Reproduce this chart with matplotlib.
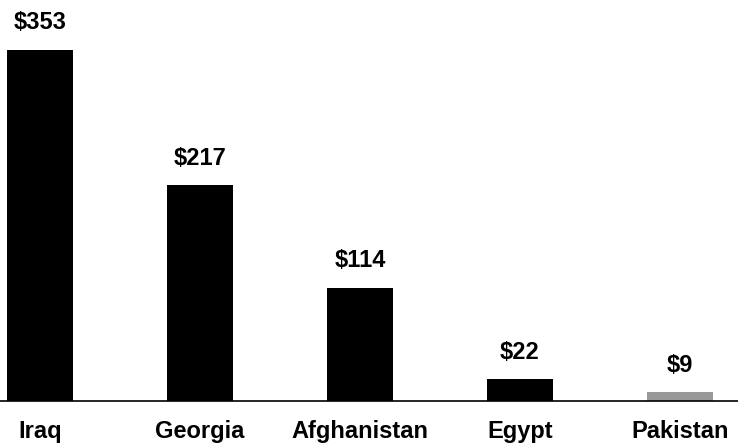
import matplotlib
matplotlib.use('Agg')
import matplotlib.pyplot as plt

plt.rcParams['font.family'] = ['Liberation Sans', 'DejaVu Sans']

countries = ['Iraq', 'Georgia', 'Afghanistan', 'Egypt', 'Pakistan']
values = [353, 217, 114, 22, 9]
labels = ['$353', '$217', '$114', '$22', '$9']
colors = ['#000000', '#000000', '#000000', '#000000', '#999999']

fig = plt.figure(figsize=(7.38, 4.43), dpi=100)
ax = fig.add_axes([0, 42 / 443, 1, 401 / 443])

x = list(range(len(countries)))
bars = ax.bar(x, values, width=0.41, color=colors)

for xi, v, lab in zip(x, values, labels):
    ax.annotate(lab, (xi, v), xytext=(0, 11), textcoords='offset points',
                ha='center', va='bottom', fontsize=17, fontweight='bold')

ax.set_xlim(-0.25, 4.3625)
ax.set_ylim(0, 403)
ax.set_xticks(x)
ax.set_xticklabels(countries, fontsize=17, fontweight='bold')
ax.tick_params(axis='x', length=0, pad=14)
ax.set_yticks([])
for side in ['top', 'right', 'left']:
    ax.spines[side].set_visible(False)
ax.spines['bottom'].set_linewidth(1.2)

fig.savefig('out.png', dpi=100)
